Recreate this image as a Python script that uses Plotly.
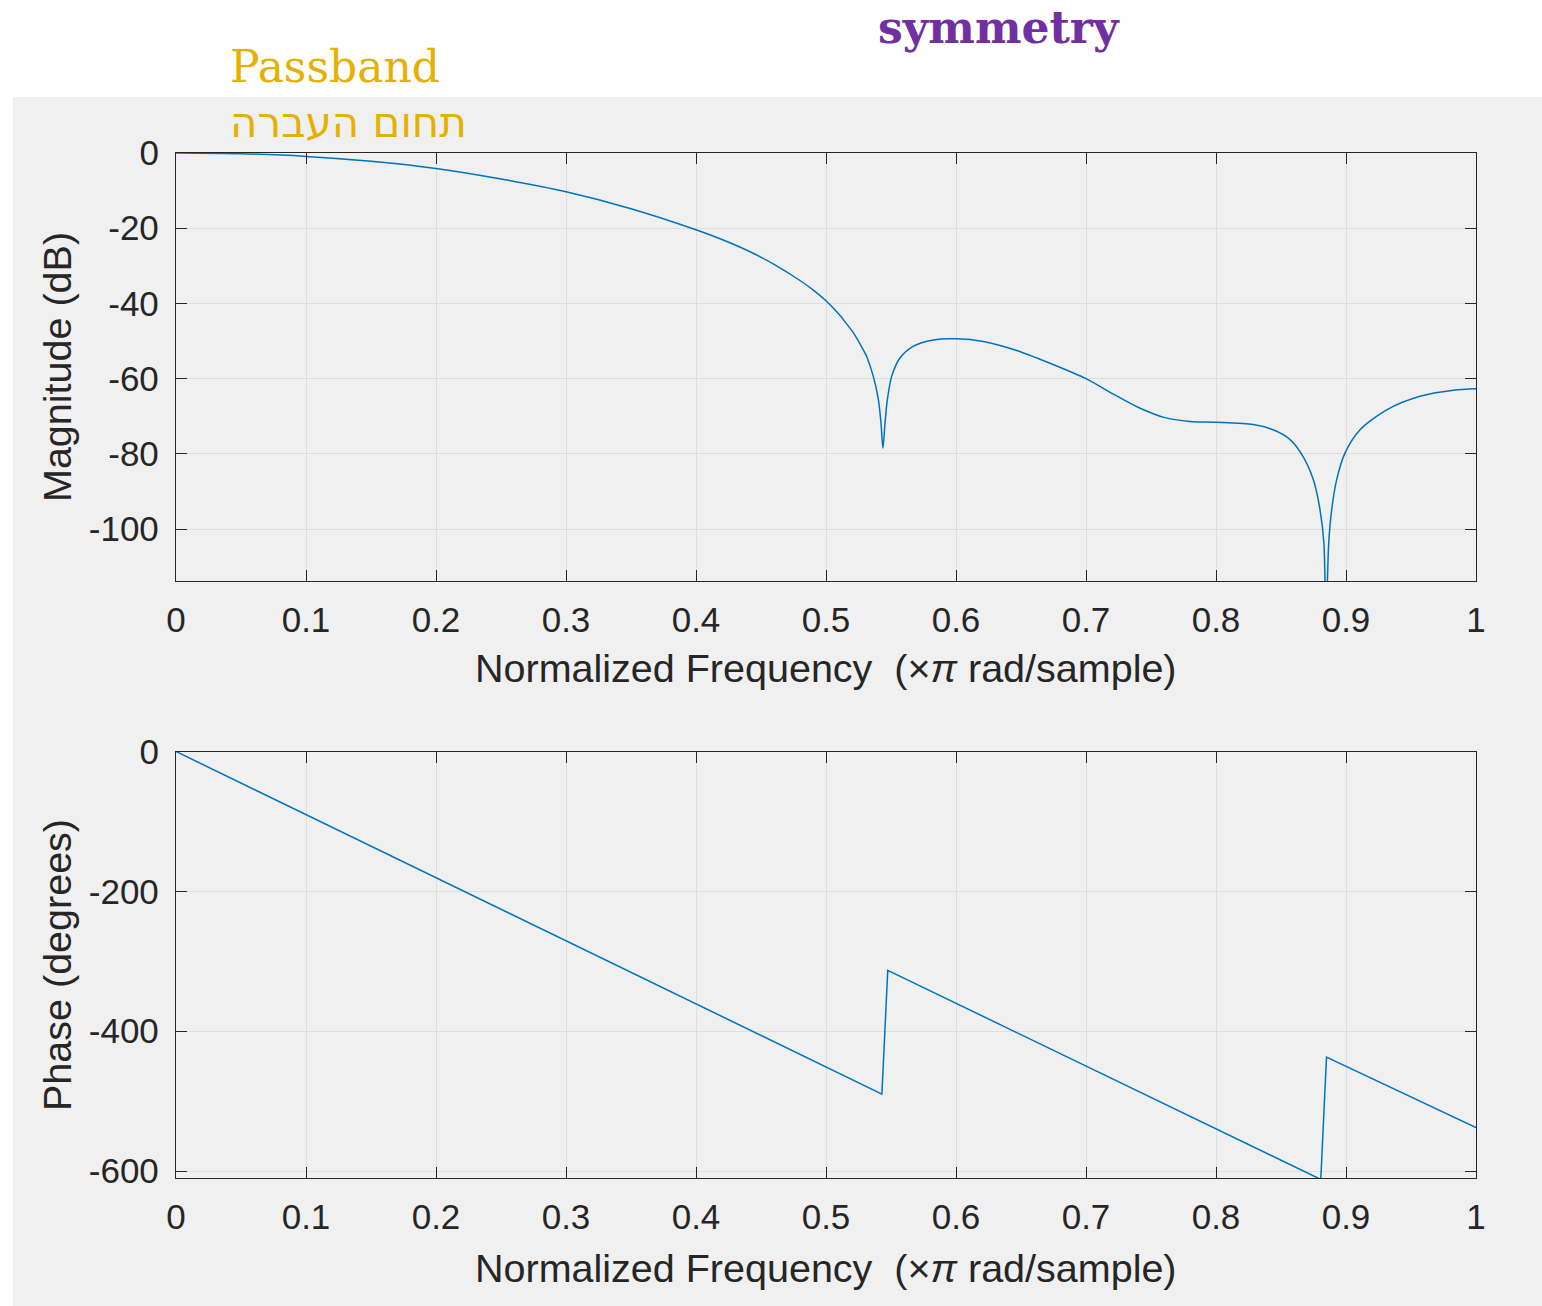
import plotly.graph_objects as go

# ---- data ----
mag_freq = [0.0, 0.05, 0.1, 0.15, 0.2, 0.25, 0.3, 0.35, 0.4, 0.42, 0.44, 0.46, 0.48, 0.49,
            0.5, 0.51, 0.5133, 0.52, 0.5236, 0.53, 0.5313, 0.5364, 0.5403, 0.5423, 0.5438,
            0.5454, 0.5472, 0.5505, 0.5569, 0.567, 0.5826, 0.6, 0.621, 0.6467, 0.6723,
            0.7, 0.72, 0.74, 0.76, 0.78, 0.8, 0.8287, 0.844, 0.857, 0.867, 0.8749, 0.88,
            0.883, 0.8846, 0.8867, 0.889, 0.8928, 0.8992, 0.9108, 0.9313, 0.9569, 0.9826, 1.0]
mag_db = [0.0, -0.2, -0.9, -2.2, -4.1, -6.9, -10.3, -14.8, -20.4, -23.0, -26.0, -29.6, -33.9, -36.4,
          -39.3, -42.9, -44.3, -47.3, -49.2, -53.2, -54.1, -59.4, -65.6, -71.8, -78.5,
          -71.8, -65.6, -59.4, -54.5, -51.4, -49.7, -49.4, -50.1, -52.5, -55.9,
          -60.0, -63.9, -67.6, -70.3, -71.4, -71.6, -72.2, -73.6, -76.2, -80.7, -86.9, -94.8,
          -103.7, -125.0, -103.7, -94.8, -86.9, -79.8, -73.6, -68.3, -64.7, -63.1, -62.7]

phase_freq = [0.0, 0.543, 0.5475, 0.8806, 0.885, 1.0]
phase_deg = [0.0, -490.0, -313.0, -612.0, -437.0, -538.0]

freq_ticks = [0, 0.1, 0.2, 0.3, 0.4, 0.5, 0.6, 0.7, 0.8, 0.9, 1]
freq_ticklabels = ["0", "0.1", "0.2", "0.3", "0.4", "0.5", "0.6", "0.7", "0.8", "0.9", "1"]
mag_ticks = [-100, -80, -60, -40, -20, 0]
mag_ticklabels = ["-100", "-80", "-60", "-40", "-20", "0"]
phase_ticks = [-600, -400, -200, 0]
phase_ticklabels = ["-600", "-400", "-200", "0"]

x_title = "Normalized Frequency\u00a0\u00a0(\u00d7<i>\u03c0</i> rad/sample)"
mag_title = "Magnitude (dB)"
phase_title = "Phase (degrees)"
note_pass_en = "Passband"
note_pass_he = "תחום העברה"
note_sym = "symmetry"

# ---- figure ----
W, H = 1542, 1306
LINE = "#0072BD"
AX = "#262626"
GRID = "#DEDEDE"
TICKFONT = dict(family="Liberation Sans, Arial, sans-serif", size=35, color=AX)
TITLEFONT = dict(family="Liberation Sans, Arial, sans-serif", size=39.5, color=AX)


def px_x(x):
    return x / W


def px_y(y):
    return 1 - y / H


fig = go.Figure()
fig.add_trace(go.Scatter(x=mag_freq, y=mag_db, mode="lines",
                         line=dict(color=LINE, width=1.5, shape="spline", smoothing=0.8),
                         xaxis="x", yaxis="y", showlegend=False, hoverinfo="skip"))
fig.add_trace(go.Scatter(x=phase_freq, y=phase_deg, mode="lines",
                         line=dict(color=LINE, width=1.5), xaxis="x2", yaxis="y2",
                         showlegend=False, hoverinfo="skip"))

xdom = [px_x(176), px_x(1476)]
common_x = dict(range=[0, 1], tickvals=freq_ticks, ticktext=freq_ticklabels,
                showgrid=True, gridcolor=GRID, gridwidth=1, zeroline=False,
                showline=True, linecolor=AX, linewidth=1.3, mirror="ticks",
                ticks="inside", ticklen=11, tickwidth=1.3, tickcolor=AX,
                tickfont=TICKFONT, ticklabelstandoff=8, fixedrange=True,
                automargin=False)
common_y = dict(showgrid=True, gridcolor=GRID, gridwidth=1, zeroline=False,
                showline=True, linecolor=AX, linewidth=1.3, mirror="ticks",
                ticks="inside", ticklen=11, tickwidth=1.3, tickcolor=AX,
                tickfont=TICKFONT, ticklabelstandoff=9, fixedrange=True,
                automargin=False)

fig.update_layout(
    width=W, height=H, autosize=False,
    margin=dict(l=0, r=0, t=0, b=0, pad=0, autoexpand=False),
    paper_bgcolor="white", plot_bgcolor="white",
    xaxis=dict(domain=xdom, anchor="y", **common_x),
    yaxis=dict(domain=[px_y(581), px_y(153)], anchor="x", range=[-113.8, 0],
               tickvals=mag_ticks, ticktext=mag_ticklabels, **common_y),
    xaxis2=dict(domain=xdom, anchor="y2", **common_x),
    yaxis2=dict(domain=[px_y(1178), px_y(751.5)], anchor="x2", range=[-610, 0],
                tickvals=phase_ticks, ticktext=phase_ticklabels, **common_y),
    shapes=[dict(type="rect", xref="paper", yref="paper", x0=px_x(13), x1=1,
                 y0=0, y1=px_y(97), fillcolor="#F0F0F0", line=dict(width=0),
                 layer="below")],
    annotations=[
        dict(text=x_title, xref="paper", yref="paper", x=px_x(826), y=px_y(668),
             xanchor="center", yanchor="middle", showarrow=False, font=TITLEFONT),
        dict(text=x_title, xref="paper", yref="paper", x=px_x(826), y=px_y(1268),
             xanchor="center", yanchor="middle", showarrow=False, font=TITLEFONT),
        dict(text=mag_title, xref="paper", yref="paper", x=px_x(57), y=px_y(367),
             xanchor="center", yanchor="middle", textangle=-90, showarrow=False,
             font=TITLEFONT),
        dict(text=phase_title, xref="paper", yref="paper", x=px_x(57), y=px_y(965),
             xanchor="center", yanchor="middle", textangle=-90, showarrow=False,
             font=TITLEFONT),
        dict(text=note_pass_en, xref="paper", yref="paper", x=px_x(228), y=px_y(67),
             xanchor="left", yanchor="middle", showarrow=False,
             font=dict(family="DejaVu Serif, serif", size=44, color="#E6B000")),
        dict(text=note_pass_he, xref="paper", yref="paper", x=px_x(228), y=px_y(122),
             xanchor="left", yanchor="middle", showarrow=False,
             font=dict(family="DejaVu Sans, sans-serif", size=42, color="#E6B000")),
        dict(text="<b>" + note_sym + "</b>", xref="paper", yref="paper", x=px_x(876),
             y=px_y(27), xanchor="left", yanchor="middle", showarrow=False,
             font=dict(family="DejaVu Serif, serif", size=44, color="#7030A0")),
    ],
)

fig.write_html("out.html")
